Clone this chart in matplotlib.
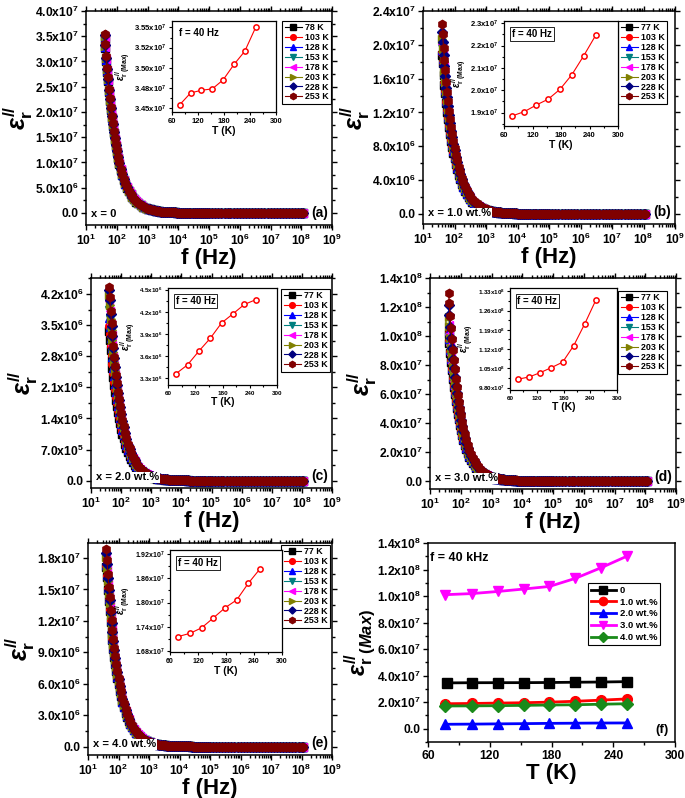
import matplotlib
matplotlib.use('Agg')
import matplotlib.pyplot as plt
import numpy as np
from matplotlib.ticker import AutoMinorLocator, LogLocator, NullFormatter

plt.rcParams.update({
    'font.family': ['Liberation Sans', 'DejaVu Sans'],
    'font.weight': 'bold',
    'axes.labelweight': 'bold',
    'mathtext.fontset': 'custom',
    'mathtext.rm': 'Liberation Sans:bold',
    'mathtext.bf': 'Liberation Sans:bold',
    'mathtext.it': 'Liberation Sans:italic:bold',
    'mathtext.sf': 'Liberation Sans:bold',
    'mathtext.default': 'bf',
    'axes.linewidth': 1.1,
})

# ---------------- data ----------------
# frequency sweep (Hz) and relative dielectric-loss shape
freq = [40, 42, 45, 48, 51, 55, 59, 63, 68, 73, 79, 85, 92, 100, 110, 120, 135, 150,
        170, 190, 215, 245, 280, 320, 370, 430, 500, 600, 720, 870, 1050, 1200, 1400,
        1600, 1850, 2100, 2450, 2800, 3250, 3750, 4300, 5000, 5800, 6700, 7700, 9000,
        1.04e4, 1.2e4, 1.4e4, 1.6e4, 1.9e4, 2.2e4, 2.5e4, 3e4, 3.5e4, 4e4, 4.7e4,
        5.5e4, 6.3e4, 7.5e4, 8.7e4,
        1e5, 1.26e5, 1.6e5, 2e5, 2.5e5, 3.2e5, 4e5, 5e5, 6.3e5, 8e5,
        1e6, 1.26e6, 1.6e6, 2e6, 2.5e6, 3.2e6, 4e6, 5e6, 6.3e6, 8e6,
        1e7, 1.26e7, 1.6e7, 2e7, 2.5e7, 3.2e7, 4e7, 5e7, 6.3e7, 8e7,
        1e8, 1.1e8]
shape = [1.0, 0.945, 0.873, 0.811, 0.756, 0.693, 0.640, 0.593, 0.543, 0.501, 0.457,
         0.420, 0.384, 0.349, 0.312, 0.283, 0.247, 0.219, 0.189, 0.167, 0.145, 0.124,
         0.107, 0.0915, 0.0774, 0.0651, 0.0548, 0.0444, 0.0360, 0.0290, 0.0233, 0.0200,
         0.0168, 0.0144, 0.0122, 0.0105, 0.0088, 0.0075, 0.0064, 0.0054, 0.0046, 0.0039,
         0.0033, 0.0028, 0.0024, 0.0020,
         0.0017, 0.00142, 0.0012, 0.00102, 0.00083, 0.0007, 0.0006, 0.00049, 0.00041,
         0.00035, 0.00029, 0.00024, 0.00021, 0.00017, 0.00015,
         0.00013, 0.00011, 0.00009, 0.00008, 0.00007, 0.00006, 0.00005, 0.00005,
         0.00004, 0.00004,
         0.00003, 0.00003, 0.00003, 0.00003, 0.00003, 0.00003, 0.00003, 0.00003,
         0.00003, 0.00003,
         0.00002, 0.00002, 0.00002, 0.00002, 0.00002, 0.00002, 0.00002, 0.00002,
         0.00002, 0.00002,
         0.00002, 0.00002]

temps_a = ['78 K', '103 K', '128 K', '153 K', '178 K', '203 K', '228 K', '253 K']
temps_o = ['77 K', '103 K', '128 K', '153 K', '178 K', '203 K', '228 K', '253 K']
T_a = [78, 103, 128, 153, 178, 203, 228, 253]
T_o = [77, 103, 128, 153, 178, 203, 228, 253]

emax_0 = [3.4541e7, 3.4687e7, 3.4720e7, 3.4737e7, 3.4849e7, 3.5040e7, 3.5205e7, 3.5500e7]
emax_1 = [1.885e7, 1.9045e7, 1.934e7, 1.960e7, 2.0045e7, 2.070e7, 2.155e7, 2.246e7]
emax_2 = [3.359e6, 3.482e6, 3.668e6, 3.841e6, 4.050e6, 4.173e6, 4.300e6, 4.364e6]
emax_3 = [1.0104e8, 1.0189e8, 1.0347e8, 1.053e8, 1.0725e8, 1.133e8, 1.213e8, 1.2996e8]
emax_4 = [1.7157e7, 1.7238e7, 1.7376e7, 1.762e7, 1.787e7, 1.8065e7, 1.848e7, 1.8835e7]

comp_labels = ['0', '1.0 wt.%', '2.0 wt.%', '3.0 wt.%', '4.0 wt.%']

colors = ['black', 'red', 'blue', '#008080', '#FF00FF', '#808000', '#000080', '#800000']
markers = ['s', 'o', '^', 'v', '<', '>', 'D', 'h']
msizes = [5.5, 5.5, 5.5, 5.5, 5.5, 5.5, 4.8, 6]

W, H = 685, 798
fig = plt.figure(figsize=(W / 100, H / 100), dpi=100)


def rect(x0, y0, x1, y1):
    return [x0 / W, 1 - y1 / H, (x1 - x0) / W, (y1 - y0) / H]


def sci(m, e):
    return f'{m}x10$^{{{e}}}$'


def main_panel(box, emax, temps, ylim, yticks, ylabs, comp, tag, leg_box):
    ax = fig.add_axes(rect(*box))
    for i, (t, em) in enumerate(zip(temps, emax)):
        vals = [s * em for s in shape]
        ax.plot(freq, vals, color=colors[i], marker=markers[i], ms=msizes[i],
                mec=colors[i], mfc=colors[i], lw=0.8, label=t, zorder=2 + i)
    ax.set_xscale('log')
    ax.set_xlim(10, 1e9)
    ax.set_xticks([10.0 ** k for k in range(1, 10)])
    ax.set_xticklabels([f'10$^{{{k}}}$' for k in range(1, 10)])
    ax.xaxis.set_minor_locator(LogLocator(base=10, subs=np.arange(2, 10) * 1.0, numticks=30))
    ax.xaxis.set_minor_formatter(NullFormatter())
    ax.set_ylim(*ylim)
    ax.set_yticks(yticks)
    ax.set_yticklabels(ylabs)
    ax.yaxis.set_minor_locator(AutoMinorLocator(2))
    ax.tick_params(which='both', direction='out', top=True, right=True,
                   labelsize=8.7, width=1)
    ax.tick_params(which='major', length=3.5, pad=2)
    ax.tick_params(which='minor', length=2)
    ax.set_xlabel('f (Hz)', fontsize=16, labelpad=0)
    ax.set_ylabel(r'$\mathit{\varepsilon}_{r}^{//}$', fontsize=18, labelpad=0)
    ax.text(0.02, 0.05, comp, transform=ax.transAxes, fontsize=8, ha='left', va='center',
            zorder=30, bbox=dict(boxstyle='square,pad=0.05', fc='white', ec='none'))
    ax.text(0.985, 0.056, tag, transform=ax.transAxes, fontsize=10, ha='right', va='center',
            zorder=30, bbox=dict(boxstyle='square,pad=0.05', fc='white', ec='none'))
    leg = ax.legend(loc='upper right', bbox_to_anchor=(leg_box[0] / W, 1 - leg_box[1] / H),
                    bbox_transform=fig.transFigure, fontsize=6.4, frameon=True,
                    fancybox=False, edgecolor='black', framealpha=1, borderpad=0.25,
                    labelspacing=0.1, handlelength=2.0, handletextpad=0.3,
                    borderaxespad=0, markerscale=0.75, numpoints=1)
    leg.get_frame().set_linewidth(0.8)
    leg.set_zorder(40)
    return ax


def inset(box, T, vals, ylim, yticks, ylabs, fs, boxed):
    ia = fig.add_axes(rect(*box))
    ia.plot(T, vals, '-o', color='red', mfc='white', mec='red', ms=3.8, mew=1.1, lw=0.8)
    ia.set_xlim(60, 300)
    ia.set_xticks([60, 120, 180, 240, 300])
    ia.xaxis.set_minor_locator(AutoMinorLocator(2))
    ia.set_ylim(*ylim)
    ia.set_yticks(yticks)
    ia.set_yticklabels(ylabs)
    ia.yaxis.set_minor_locator(AutoMinorLocator(2))
    ia.tick_params(which='both', direction='out', labelsize=fs, width=0.8, pad=1.5)
    ia.tick_params(which='major', length=2.5)
    ia.tick_params(which='minor', length=1.5)
    for s in ia.spines.values():
        s.set_linewidth(0.9)
    ia.set_xlabel('T (K)', fontsize=7.5, labelpad=1)
    ia.set_ylabel(r'$\mathit{\varepsilon}^{//}_{r\ (Max)}$', fontsize=7, labelpad=1)
    kw = {}
    if boxed:
        kw['bbox'] = dict(boxstyle='square,pad=0.2', fc='white', ec='black', lw=0.6)
    ia.text(0.07, 0.92, 'f = 40 Hz', transform=ia.transAxes, fontsize=7,
            ha='left', va='top', **kw)
    return ia


# (a)
main_panel((86, 11, 332, 225), emax_0, temps_a, (-2.4e6, 4.0e7),
           [0, 5e6, 1e7, 1.5e7, 2e7, 2.5e7, 3e7, 3.5e7, 4e7],
           ['0.0', sci('5.0', 6), sci('1.0', 7), sci('1.5', 7), sci('2.0', 7),
            sci('2.5', 7), sci('3.0', 7), sci('3.5', 7), sci('4.0', 7)],
           'x = 0', '(a)', (331, 21))
inset((172, 21, 276, 112), T_a, emax_0, (3.445e7, 3.558e7),
      [3.45e7, 3.475e7, 3.50e7, 3.525e7, 3.55e7],
      [sci('3.45', 7), sci('3.48', 7), sci('3.50', 7), sci('3.52', 7), sci('3.55', 7)],
      5.5, False)

# (b)
main_panel((423, 11, 675, 224), emax_1, temps_o, (-1.2e6, 2.4e7),
           [0, 4e6, 8e6, 1.2e7, 1.6e7, 2.0e7, 2.4e7],
           ['0.0', sci('4.0', 6), sci('8.0', 6), sci('1.2', 7), sci('1.6', 7),
            sci('2.0', 7), sci('2.4', 7)],
           'x = 1.0 wt.%', '(b)', (667, 21))
inset((504, 21, 618, 126), T_o, emax_1, (1.84e7, 2.31e7),
      [1.9e7, 2.0e7, 2.1e7, 2.2e7, 2.3e7],
      [sci('1.9', 7), sci('2.0', 7), sci('2.1', 7), sci('2.2', 7), sci('2.3', 7)],
      5.5, True)

# (c)
main_panel((91, 278, 332, 488), emax_2, temps_o, (-1.65e5, 4.56e6),
           [0, 7e5, 1.4e6, 2.1e6, 2.8e6, 3.5e6, 4.2e6],
           ['0.0', sci('7.0', 5), sci('1.4', 6), sci('2.1', 6), sci('2.8', 6),
            sci('3.5', 6), sci('4.2', 6)],
           'x = 2.0 wt.%', '(c)', (330, 289))
inset((168, 288, 277, 385), T_o, emax_2, (3.209e6, 4.523e6),
      [3.3e6, 3.6e6, 3.9e6, 4.2e6, 4.5e6],
      [sci('3.3', 6), sci('3.6', 6), sci('3.9', 6), sci('4.2', 6), sci('4.5', 6)],
      4.5, True)

# (d)
main_panel((430, 278, 676, 489), emax_3, temps_o, (-5.5e6, 1.4e8),
           [0, 2e7, 4e7, 6e7, 8e7, 1.0e8, 1.2e8, 1.4e8],
           ['0.0', sci('2.0', 7), sci('4.0', 7), sci('6.0', 7), sci('8.0', 7),
            sci('1.0', 8), sci('1.2', 8), sci('1.4', 8)],
           'x = 3.0 wt.%', '(d)', (667, 291))
inset((510, 288, 617, 390), T_o, emax_3, (0.9715e8, 1.342e8),
      [0.98e8, 1.05e8, 1.12e8, 1.19e8, 1.26e8, 1.33e8],
      [sci('9.80', 7), sci('1.05', 8), sci('1.12', 8), sci('1.19', 8), sci('1.26', 8),
       sci('1.33', 8)],
      4.5, True)

# (e)
main_panel((88, 543, 332, 755), emax_4, temps_o, (-8e5, 1.943e7),
           [0, 3e6, 6e6, 9e6, 1.2e7, 1.5e7, 1.8e7],
           ['0.0', sci('3.0', 6), sci('6.0', 6), sci('9.0', 6), sci('1.2', 7),
            sci('1.5', 7), sci('1.8', 7)],
           'x = 4.0 wt.%', '(e)', (330, 545))
inset((170, 550, 282, 652), T_o, emax_4, (1.6776e7, 1.93e7),
      [1.68e7, 1.74e7, 1.80e7, 1.86e7, 1.92e7],
      [sci('1.68', 7), sci('1.74', 7), sci('1.80', 7), sci('1.86', 7), sci('1.92', 7)],
      5.0, True)

# (f)
axf = fig.add_axes(rect(428, 543, 675, 742))
f_colors = ['black', 'red', 'blue', '#FF00FF', '#1a8a1a']
f_markers = ['s', 'o', '^', 'v', 'D']
f_sizes = [6.5, 7, 7, 7.5, 6]
f_series = [emax_0, emax_1, emax_2, emax_3, emax_4]
f_T = [T_a, T_o, T_o, T_o, T_o]
for i in range(5):
    axf.plot(f_T[i], f_series[i], color=f_colors[i], marker=f_markers[i],
             ms=f_sizes[i], lw=2, label=comp_labels[i], zorder=3 + i)
axf.set_xlim(60, 300)
axf.set_xticks([60, 120, 180, 240, 300])
axf.xaxis.set_minor_locator(AutoMinorLocator(2))
axf.set_ylim(-1.0e7, 1.4e8)
axf.set_yticks([0, 2e7, 4e7, 6e7, 8e7, 1.0e8, 1.2e8, 1.4e8])
axf.set_yticklabels(['0.0', sci('2.0', 7), sci('4.0', 7), sci('6.0', 7), sci('8.0', 7),
                     sci('1.0', 8), sci('1.2', 8), sci('1.4', 8)])
axf.yaxis.set_minor_locator(AutoMinorLocator(2))
axf.tick_params(which='both', direction='out', labelsize=8.7, width=1)
axf.tick_params(which='major', length=3.5, pad=2)
axf.tick_params(which='minor', length=2)
axf.set_xlabel('T (K)', fontsize=16, labelpad=1)
axf.set_ylabel(r'$\mathit{\varepsilon}_{r\ \mathit{(Max)}}^{//}$', fontsize=17, labelpad=0)
axf.text(0.01, 0.955, 'f = 40 kHz', transform=axf.transAxes, fontsize=9,
         ha='left', va='top')
axf.text(0.975, 0.06, '(f)', transform=axf.transAxes, fontsize=9.5, ha='right', va='center')
legf = axf.legend(loc='upper right', bbox_to_anchor=(660 / W, 1 - 583 / H),
                  bbox_transform=fig.transFigure, fontsize=6.8, frameon=True,
                  fancybox=False, edgecolor='black', framealpha=1, borderpad=0.3,
                  labelspacing=0.3, handlelength=2.6, handletextpad=0.4,
                  borderaxespad=0, markerscale=0.85, numpoints=1)
legf.get_frame().set_linewidth(0.8)

fig.savefig('out.png', dpi=100)
